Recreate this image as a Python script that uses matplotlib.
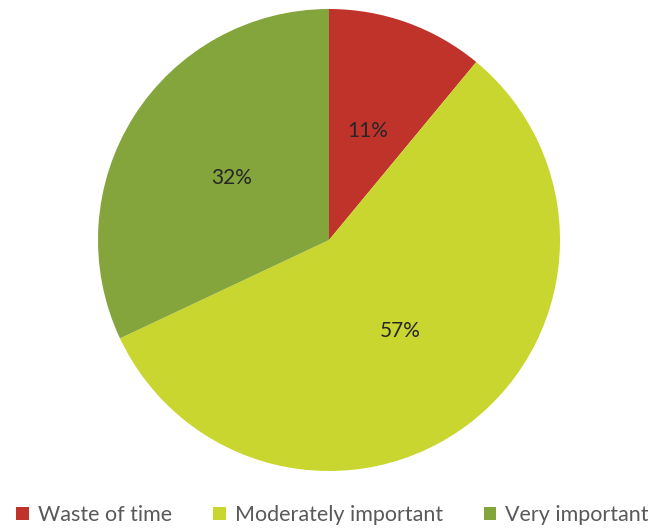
import matplotlib.pyplot as plt
from matplotlib.patches import Patch

plt.rcParams['font.family'] = ['Lato', 'DejaVu Sans']

labels = ['Waste of time', 'Moderately important', 'Very important']
shares = [11, 57, 32]
colors = ['#C0332B', '#C9D62F', '#84A43C']

fig = plt.figure(figsize=(6.65, 5.28), dpi=100)
r = 231
ax = fig.add_axes([(329 - r) / 665, (528 - 240 - r) / 528, 2 * r / 665, 2 * r / 528])

wedges, texts, autotexts = ax.pie(
    shares, colors=colors, startangle=90, counterclock=False,
    autopct='%d%%', pctdistance=0.5, radius=1,
    wedgeprops=dict(linewidth=0),
    textprops=dict(fontsize=15, color='#262626'))
ax.set_xlim(-1, 1)
ax.set_ylim(-1, 1)
ax.set_aspect('equal')

handles = [Patch(facecolor=c, edgecolor='none') for c in colors]
fig.legend(handles, labels, loc='center', bbox_to_anchor=(0.5, 1 - 515 / 528),
           ncol=3, frameon=False, fontsize=15.5, labelcolor='#595959',
           handlelength=0.6, handleheight=0.6, handletextpad=0.4, columnspacing=1.9)

fig.savefig('out.png', dpi=100)
